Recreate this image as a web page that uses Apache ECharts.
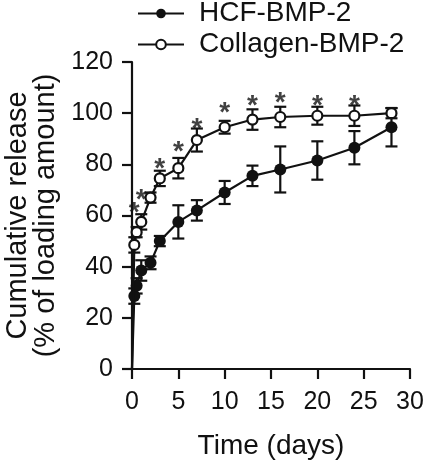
<!DOCTYPE html>
<html>
<head>
<meta charset="utf-8">
<script src="https://cdn.jsdelivr.net/npm/echarts@6/dist/echarts.min.js"></script>
<style>html,body{margin:0;padding:0;background:#fff}#c{width:425px;height:464px}</style>
</head>
<body>
<div id="c"></div>
<script>
// Data
var days = [0, 0.25, 0.5, 1, 2, 3, 5, 7, 10, 13, 16, 20, 24, 28];
var hcfMean = [0, 28.5, 32.5, 38.5, 41.5, 50, 57.5, 62, 69, 75.5, 78, 81.5, 86.5, 94.5];
var hcfErr  = [0, 3, 3, 4, 2.5, 2, 6.5, 4, 4.5, 4, 9, 7.5, 6.5, 7.5];
var colMean = [0, 48.5, 53.5, 57.5, 67, 74.5, 78.5, 89.5, 94.5, 97.5, 98.5, 99, 99, 100];
var colErr  = [0, 3, 2, 3, 2, 3, 4, 4.5, 2.5, 4, 4, 3.5, 4, 2];
var sigDays = [0.25, 1, 3, 5, 7, 10, 13, 16, 20, 24];
var sigY    = [64, 69, 81, 88, 97, 103, 106, 107, 106, 106];
var yTicks = [0, 20, 40, 60, 80, 100, 120];
var xTicks = [0, 5, 10, 15, 20, 25, 30];
var seriesNames = ['HCF-BMP-2', 'Collagen-BMP-2'];

var FONT = '"Liberation Sans", Arial, Helvetica, sans-serif';
var INK = '#111';

function lineData(mean) {
  return days.map(function (d, i) {
    var item = { value: [d, mean[i]] };
    if (d === 0 && mean[i] === 0) item.symbol = 'none';
    return item;
  });
}
function errData(mean, err) {
  var out = [];
  days.forEach(function (d, i) { if (err[i] > 0) out.push([d, mean[i] - err[i], mean[i] + err[i]]); });
  return out;
}
function errRender(params, api) {
  var x = api.value(0);
  var lo = api.coord([x, api.value(1)]);
  var hi = api.coord([x, api.value(2)]);
  var hw = 6;
  var st = { stroke: INK, lineWidth: 2.2 };
  return { type: 'group', children: [
    { type: 'line', shape: { x1: lo[0], y1: lo[1], x2: hi[0], y2: hi[1] }, style: st },
    { type: 'line', shape: { x1: lo[0] - hw, y1: lo[1], x2: lo[0] + hw, y2: lo[1] }, style: st },
    { type: 'line', shape: { x1: hi[0] - hw, y1: hi[1], x2: hi[0] + hw, y2: hi[1] }, style: st }
  ]};
}

var chart = echarts.init(document.getElementById('c'), null, { renderer: 'canvas' });
chart.setOption({
  animation: false,
  backgroundColor: '#fff',
  textStyle: { fontFamily: FONT },
  grid: { left: 132, right: 15, top: 62, bottom: 95, containLabel: false, outerBoundsMode: 'none' },
  legend: {
    orient: 'vertical', left: 137, top: -2, itemGap: 0, padding: 0,
    itemWidth: 46, itemHeight: 12,
    textStyle: { fontSize: 28, color: INK, fontFamily: FONT, lineHeight: 31, padding: [0, 0, 0, 10] },
    data: seriesNames
  },
  xAxis: {
    type: 'value', min: xTicks[0], max: xTicks[xTicks.length - 1], interval: 5,
    name: 'Time (days)', nameLocation: 'middle', nameGap: 63,
    nameTextStyle: { fontSize: 28, color: INK, fontFamily: FONT },
    axisLine: { lineStyle: { color: INK, width: 2.2 } },
    axisTick: { inside: false, length: 10, lineStyle: { width: 2.2, color: INK } },
    axisLabel: { fontSize: 25, color: INK, margin: 21, fontFamily: FONT },
    splitLine: { show: false }
  },
  yAxis: {
    type: 'value', min: yTicks[0], max: yTicks[yTicks.length - 1], interval: 20,
    name: 'Cumulative release\n(% of loading amount)', nameLocation: 'middle', nameRotate: 90, nameGap: 70,
    nameTextStyle: { fontSize: 29, color: INK, fontFamily: FONT, lineHeight: 28 },
    axisLine: { show: true, lineStyle: { color: INK, width: 2.2 } },
    axisTick: { show: true, inside: false, length: 10, lineStyle: { width: 2.2, color: INK } },
    axisLabel: { fontSize: 25, color: INK, margin: 19, fontFamily: FONT },
    splitLine: { show: false }
  },
  series: [
    { name: 'hcfErr', type: 'custom', renderItem: errRender, data: errData(hcfMean, hcfErr), z: 1, silent: true },
    { name: 'colErr', type: 'custom', renderItem: errRender, data: errData(colMean, colErr), z: 1, silent: true },
    {
      name: seriesNames[0], type: 'line', data: lineData(hcfMean), z: 3,
      symbol: 'circle', symbolSize: 12, showAllSymbol: true,
      lineStyle: { color: INK, width: 2.2 },
      itemStyle: { color: INK, borderColor: INK, borderWidth: 0 }
    },
    {
      name: seriesNames[1], type: 'line', data: lineData(colMean), z: 4,
      symbol: 'circle', symbolSize: 10, showAllSymbol: true,
      lineStyle: { color: INK, width: 2.2 },
      itemStyle: { color: '#fff', borderColor: INK, borderWidth: 2.2 }
    },
    {
      name: 'sig', type: 'scatter', symbolSize: 0, z: 5, silent: true,
      data: sigDays.map(function (d, i) { return [d, sigY[i]]; }),
      label: { show: true, position: 'inside', formatter: '*', fontSize: 28, fontWeight: 'bold', color: INK, fontFamily: FONT, offset: [0, 8] }
    }
  ]
});
</script>
</body>
</html>
